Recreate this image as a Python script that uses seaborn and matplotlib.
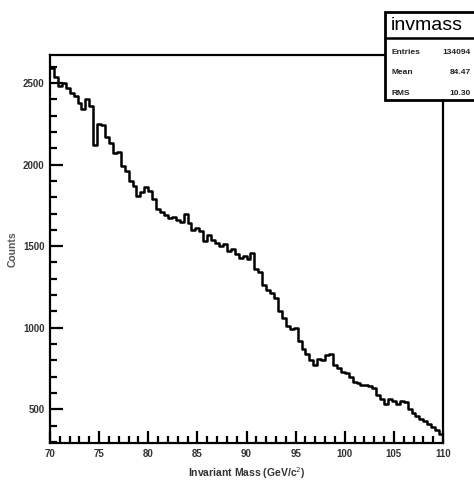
import numpy as np
import pandas as pd
import matplotlib
matplotlib.use("Agg")
import matplotlib.pyplot as plt
from matplotlib.patches import Rectangle
from matplotlib.lines import Line2D
from matplotlib.ticker import MultipleLocator
import seaborn as sns

# Histogram binning: 100 bins of 0.4 GeV between 70 and 110 GeV
mass_low = 70.0
mass_high = 110.0
n_bins = 100

counts = [
    2590, 2540, 2480, 2500, 2470, 2440, 2420, 2380, 2340, 2400,
    2360, 2120, 2250, 2240, 2170, 2130, 2070, 2080, 1990, 1960,
    1900, 1870, 1810, 1830, 1860, 1840, 1790, 1730, 1710, 1690,
    1670, 1680, 1660, 1650, 1695, 1640, 1600, 1610, 1590, 1530,
    1570, 1540, 1520, 1500, 1515, 1470, 1480, 1450, 1430, 1440,
    1420, 1460, 1360, 1340, 1260, 1230, 1210, 1180, 1100, 1060,
    1010, 990, 1000, 920, 870, 840, 800, 770, 810, 800,
    830, 840, 770, 750, 730, 720, 700, 670, 660, 650,
    650, 640, 630, 590, 560, 530, 560, 550, 530, 550,
    545, 500, 480, 460, 440, 430, 410, 390, 375, 350,
]

x_ticks = [70, 75, 80, 85, 90, 95, 100, 105, 110]
y_ticks = [500, 1000, 1500, 2000, 2500]

stats_title = "invmass"
stats_names = ["Entries", "Mean", "RMS"]
stats_values = ["134094", "84.47", "10.30"]

bin_width = (mass_high - mass_low) / n_bins
centers = mass_low + bin_width * (np.arange(n_bins) + 0.5)
df = pd.DataFrame({"mass": centers, "counts": counts})

sns.set_style("white")
plt.rcParams["font.family"] = ["Liberation Sans", "DejaVu Sans"]

fig = plt.figure(figsize=(4.74, 4.90), dpi=100)
ax = fig.add_axes([0.1055, 0.0959, 0.8291, 0.7919])

sns.histplot(data=df, x="mass", weights="counts", binwidth=bin_width,
             binrange=(mass_low, mass_high), element="step", fill=False,
             color="black", linewidth=1.8, ax=ax)

ax.set_xlim(mass_low, mass_high)
ax.set_ylim(293, 2672)
ax.set_xticks(x_ticks)
ax.set_xticklabels([str(t) for t in x_ticks])
ax.set_yticks(y_ticks)
ax.set_yticklabels([str(t) for t in y_ticks])
ax.xaxis.set_minor_locator(MultipleLocator(1))
ax.yaxis.set_minor_locator(MultipleLocator(100))

ax.tick_params(axis="both", which="major", direction="in", length=9,
               width=1.6, labelsize=7, colors="black", pad=4,
               bottom=True, left=True, top=False, right=False)
ax.tick_params(axis="both", which="minor", direction="in", length=5,
               width=1.6, colors="black",
               bottom=True, left=True, top=False, right=False)
for tl in ax.get_xticklabels() + ax.get_yticklabels():
    tl.set_fontweight("bold")
    tl.set_color("#333333")

for side in ["left", "bottom", "top", "right"]:
    ax.spines[side].set_visible(True)
    ax.spines[side].set_color("black")
    ax.spines[side].set_linewidth(1.6)

ax.set_xlabel("Invariant Mass (GeV/c$^2$)", fontsize=7.5, fontweight="bold",
              color="#333333", labelpad=5)
ax.set_ylabel("Counts", fontsize=7.5, fontweight="bold", color="#555555",
              labelpad=4)

# Statistics box in the upper right corner
W, H = 474.0, 490.0
bx0, by0, bx1, by1 = 385, 12, 500, 100
fig.patches.append(Rectangle((bx0 / W, 1 - by1 / H), (bx1 - bx0) / W,
                             (by1 - by0) / H, transform=fig.transFigure,
                             facecolor="white", edgecolor="black",
                             linewidth=2.0, zorder=5))
fig.lines.append(Line2D([bx0 / W, bx1 / W], [1 - 38 / H, 1 - 38 / H],
                        transform=fig.transFigure, color="black",
                        linewidth=1.8, zorder=6))
fig.text(391 / W, 1 - 25 / H, stats_title, fontsize=14,
         ha="left", va="center", zorder=7, color="black")
row_y = [52, 72, 93]
for name, val, yy in zip(stats_names, stats_values, row_y):
    fig.text(391 / W, 1 - yy / H, name, fontsize=6, fontweight="bold",
             ha="left", va="center", zorder=7, color="#222222")
    fig.text(471 / W, 1 - yy / H, val, fontsize=6, fontweight="bold",
             ha="right", va="center", zorder=7, color="#222222")

fig.savefig("out.png", dpi=100, facecolor="white")
